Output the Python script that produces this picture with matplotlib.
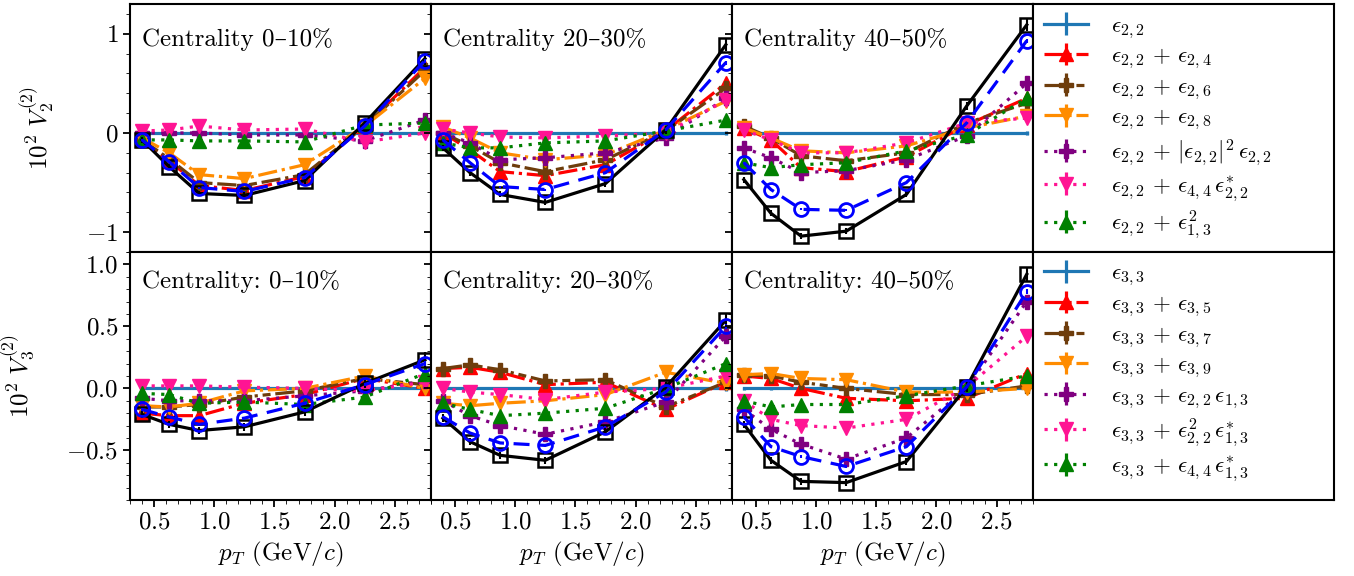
import matplotlib
matplotlib.use("Agg")
import matplotlib.pyplot as plt
from matplotlib.ticker import MultipleLocator

plt.rcParams["font.family"] = ["cmr10", "DejaVu Serif"]
plt.rcParams["mathtext.fontset"] = "cm"
plt.rcParams["axes.formatter.use_mathtext"] = True
plt.rcParams["font.size"] = 18
plt.rcParams["axes.linewidth"] = 1.5
plt.rcParams["xtick.major.size"] = 5
plt.rcParams["ytick.major.size"] = 5
plt.rcParams["xtick.minor.size"] = 3
plt.rcParams["ytick.minor.size"] = 3
plt.rcParams["xtick.major.width"] = 1.3
plt.rcParams["ytick.major.width"] = 1.3

pt = [0.4, 0.625, 0.875, 1.25, 1.75, 2.25, 2.75]
cent_top = ["Centrality 0–10%", "Centrality 20–30%", "Centrality 40–50%"]
cent_bot = ["Centrality: 0–10%", "Centrality: 20–30%", "Centrality: 40–50%"]

# ---- V2 (top row), one list per centrality ----
v2_data = [[-0.07, -0.34, -0.61, -0.63, -0.48, 0.10, 0.75],
           [-0.15, -0.40, -0.62, -0.70, -0.51, 0.03, 0.89],
           [-0.47, -0.81, -1.04, -0.99, -0.62, 0.27, 1.09]]
v2_fit = [[-0.07, -0.29, -0.55, -0.59, -0.45, 0.07, 0.73],
          [-0.07, -0.30, -0.54, -0.57, -0.40, 0.03, 0.71],
          [-0.30, -0.57, -0.77, -0.78, -0.50, 0.10, 0.93]]
v2_e22 = [[0, 0, 0, 0, 0, 0, 0]] * 3
v2_e24 = [[-0.07, -0.28, -0.53, -0.58, -0.44, 0.07, 0.66],
          [0.00, -0.17, -0.39, -0.43, -0.32, 0.02, 0.50],
          [0.05, -0.07, -0.35, -0.39, -0.24, 0.08, 0.35]]
v2_e26 = [[-0.07, -0.26, -0.50, -0.53, -0.42, 0.07, 0.63],
          [0.00, -0.13, -0.30, -0.39, -0.27, 0.02, 0.45],
          [0.07, -0.05, -0.23, -0.28, -0.20, 0.10, 0.30]]
v2_e28 = [[-0.05, -0.20, -0.42, -0.46, -0.32, 0.07, 0.55],
          [0.06, -0.05, -0.20, -0.27, -0.22, 0.03, 0.32],
          [0.05, -0.05, -0.18, -0.20, -0.13, 0.05, 0.17]]
v2_cub = [[0.00, 0.00, 0.00, -0.02, -0.02, -0.08, 0.13],
          [0.00, -0.10, -0.27, -0.25, -0.20, -0.05, 0.35],
          [-0.15, -0.25, -0.40, -0.38, -0.27, -0.03, 0.50]]
v2_e44 = [[0.02, 0.03, 0.07, 0.03, 0.04, -0.09, 0.00],
          [0.04, 0.00, -0.04, -0.05, -0.03, 0.00, 0.33],
          [0.03, -0.07, -0.20, -0.20, -0.10, 0.10, 0.15]]
v2_e13 = [[-0.07, -0.07, -0.08, -0.08, -0.09, 0.08, 0.10],
          [-0.10, -0.15, -0.15, -0.10, -0.08, 0.02, 0.13],
          [-0.30, -0.35, -0.32, -0.30, -0.18, -0.02, 0.35]]

# ---- V3 (bottom row) ----
v3_data = [[-0.21, -0.29, -0.34, -0.31, -0.19, 0.04, 0.23],
           [-0.24, -0.43, -0.54, -0.58, -0.35, 0.01, 0.55],
           [-0.29, -0.58, -0.75, -0.76, -0.59, 0.01, 0.92]]
v3_fit = [[-0.17, -0.23, -0.29, -0.24, -0.12, 0.03, 0.20],
          [-0.23, -0.36, -0.44, -0.46, -0.31, -0.03, 0.50],
          [-0.23, -0.47, -0.55, -0.63, -0.47, 0.01, 0.78]]
v3_e33 = [[0, 0, 0, 0, 0, 0, 0]] * 3
v3_e35 = [[-0.20, -0.22, -0.22, -0.12, -0.05, 0.08, 0.00],
          [0.16, 0.17, 0.13, 0.03, 0.05, -0.17, 0.05],
          [0.10, 0.08, 0.00, -0.08, -0.10, -0.08, 0.12]]
v3_e37 = [[-0.15, -0.15, -0.13, -0.07, -0.02, 0.08, 0.03],
          [0.16, 0.19, 0.15, 0.06, 0.07, -0.15, 0.05],
          [0.11, 0.10, 0.05, 0.00, -0.05, -0.05, 0.02]]
v3_e39 = [[-0.14, -0.15, -0.12, -0.02, 0.00, 0.10, 0.00],
          [-0.12, -0.14, -0.12, -0.10, -0.05, 0.13, 0.04],
          [0.11, 0.12, 0.08, 0.07, -0.03, -0.03, 0.00]]
v3_e2213 = [[-0.08, -0.10, -0.10, -0.10, -0.06, -0.02, 0.06],
            [-0.10, -0.22, -0.30, -0.37, -0.27, -0.11, 0.42],
            [-0.17, -0.33, -0.45, -0.57, -0.40, 0.00, 0.70]]
v3_e22sq13 = [[0.02, 0.02, 0.02, 0.01, 0.00, -0.02, 0.05],
              [0.00, -0.03, -0.05, -0.09, -0.03, 0.00, 0.10],
              [-0.10, -0.25, -0.30, -0.32, -0.25, 0.01, 0.42]]
v3_e4413 = [[-0.04, -0.05, -0.12, -0.11, -0.13, -0.07, 0.12],
            [-0.12, -0.17, -0.22, -0.20, -0.16, 0.00, 0.20],
            [-0.10, -0.15, -0.13, -0.13, -0.06, 0.02, 0.10]]

data_err = [0.03, 0.03, 0.03, 0.03, 0.03, 0.04, 0.06]
model_err = [0.01, 0.01, 0.01, 0.01, 0.01, 0.01, 0.02]

labels_v2 = [r"$\epsilon_{2,2}$",
             r"$\epsilon_{2,2}\,+\,\epsilon_{2,4}$",
             r"$\epsilon_{2,2}\,+\,\epsilon_{2,6}$",
             r"$\epsilon_{2,2}\,+\,\epsilon_{2,8}$",
             r"$\epsilon_{2,2}\,+\,|\epsilon_{2,2}|^2\,\epsilon_{2,2}$",
             r"$\epsilon_{2,2}\,+\,\epsilon_{4,4}\,\epsilon_{2,2}^{*}$",
             r"$\epsilon_{2,2}\,+\,\epsilon_{1,3}^{2}$"]
labels_v3 = [r"$\epsilon_{3,3}$",
             r"$\epsilon_{3,3}\,+\,\epsilon_{3,5}$",
             r"$\epsilon_{3,3}\,+\,\epsilon_{3,7}$",
             r"$\epsilon_{3,3}\,+\,\epsilon_{3,9}$",
             r"$\epsilon_{3,3}\,+\,\epsilon_{2,2}\,\epsilon_{1,3}$",
             r"$\epsilon_{3,3}\,+\,\epsilon_{2,2}^{2}\,\epsilon_{1,3}^{*}$",
             r"$\epsilon_{3,3}\,+\,\epsilon_{4,4}\,\epsilon_{1,3}^{*}$"]

# style per model series: colour, marker, linestyle
styles = [("#1f77b4", "", "-"),
          ("red", "^", (0, (6, 1.5, 1, 1.5))),
          ("#6e3d0c", "P", (0, (6, 1.5, 1, 1.5, 2.5, 1.5))),
          ("darkorange", "v", (0, (6, 1.5, 1, 1.5))),
          ("purple", "P", (0, (1, 2))),
          ("deeppink", "v", (0, (1, 2))),
          ("green", "^", (0, (1, 2)))]

fig = plt.figure(figsize=(13.54, 5.76), dpi=100)
gs = fig.add_gridspec(2, 4, left=0.096, right=0.985, top=0.993, bottom=0.132,
                      hspace=0, wspace=0)

rows = [
    (v2_data, v2_fit, [v2_e22, v2_e24, v2_e26, v2_e28, v2_cub, v2_e44, v2_e13],
     labels_v2, cent_top, (-1.2, 1.3), 1.0, 0.2, r"$10^2\ V_2^{(2)}$", -0.243),
    (v3_data, v3_fit, [v3_e33, v3_e35, v3_e37, v3_e39, v3_e2213, v3_e22sq13, v3_e4413],
     labels_v3, cent_bot, (-0.9, 1.1), 0.5, 0.1, r"$10^2\ V_3^{(2)}$", -0.31),
]

for r, (dat, fit, models, labels, cents, ylim, ymaj, ymin, ylab, labx) in enumerate(rows):
    handles = []
    for c in range(3):
        ax = fig.add_subplot(gs[r, c])
        for k, (col, mk, ls) in enumerate(styles):
            h = ax.errorbar(pt, models[k][c], yerr=model_err, color=col, marker=mk,
                            ls=ls, lw=2.3, ms=10, elinewidth=2.3, capsize=0,
                            label=labels[k], zorder=2 + k * 0.1)
            if c == 0:
                handles.append(h)
        ax.errorbar(pt, fit[c], yerr=model_err, color="blue", marker="o", ls="--",
                    lw=2.3, ms=10, mfc="none", mew=2, elinewidth=1.5, capsize=0,
                    dashes=(5, 3), zorder=4)
        ax.errorbar(pt, dat[c], yerr=data_err, color="black", marker="s", ls="-",
                    lw=2.3, ms=10, mfc="none", mew=1.8, elinewidth=1.5, capsize=0,
                    zorder=3.5)
        ax.set_xlim(0.3, 2.8)
        ax.set_ylim(*ylim)
        ax.xaxis.set_major_locator(MultipleLocator(0.5))
        ax.xaxis.set_minor_locator(MultipleLocator(0.1))
        ax.yaxis.set_major_locator(MultipleLocator(ymaj))
        ax.yaxis.set_minor_locator(MultipleLocator(ymin))
        ax.text(0.04, 0.855 if r == 0 else 0.88, cents[c], transform=ax.transAxes,
                va="center", ha="left", fontsize=18)
        if c == 0:
            ax.set_ylabel(ylab)
            ax.yaxis.set_label_coords(labx, 0.5)
        else:
            ax.tick_params(axis="y", labelleft=False)
        if r == 0:
            ax.tick_params(axis="x", labelbottom=False)
        else:
            ax.set_xlabel(r"$p_T$ (GeV/$c$)")
    lax = fig.add_subplot(gs[r, 3])
    lax.set_xticks([])
    lax.set_yticks([])
    lax.legend(handles=handles, loc="upper left", frameon=False, fontsize=16.5,
               handlelength=1.9, handletextpad=1.0, labelspacing=0.24,
               borderaxespad=0.0, borderpad=0.5)

fig.savefig("out.png", dpi=100)
